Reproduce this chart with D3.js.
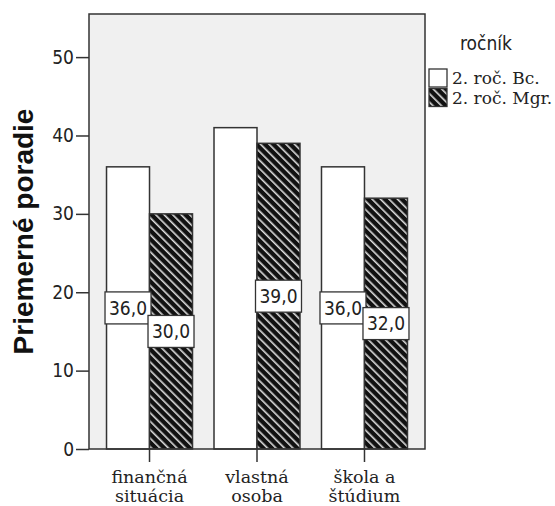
<!DOCTYPE html>
<html>
<head>
<meta charset="utf-8">
<script src="https://cdn.jsdelivr.net/npm/d3@7"></script>
<style>
  body { margin: 0; background: #fff; }
  svg { display: block; }
  .serif { font-family: "DejaVu Serif", "Liberation Serif", serif; }
</style>
</head>
<body>
<div id="chart"></div>
<script>
const width = 555;
const height = 506;

// data
const categories = [["finančná", "situácia"], ["vlastná", "osoba"], ["škola a", "štúdium"]];
const series = ["2. roč. Bc.", "2. roč. Mgr."];
const bcValues = [36, 41, 36];
const mgrValues = [30, 39, 32];
const labelValues = [[36, 30], [null, 39], [36, 32]];
const yTicks = [0, 10, 20, 30, 40, 50];

const margin = { top: 14, left: 89, right: 130, bottom: 57 };
const plotW = width - margin.left - margin.right;
const plotH = height - margin.top - margin.bottom;

const svg = d3.select("#chart").append("svg")
  .attr("width", width)
  .attr("height", height);

const defs = svg.append("defs");
const pat = defs.append("pattern")
  .attr("id", "hatch")
  .attr("patternUnits", "userSpaceOnUse")
  .attr("width", 6)
  .attr("height", 6)
  .attr("patternTransform", "rotate(-45)");
pat.append("rect").attr("width", 6).attr("height", 6).attr("fill", "#111");
pat.append("rect").attr("x", 0).attr("width", 1.6).attr("height", 6).attr("fill", "#ddd");

const x0 = d3.scaleBand()
  .domain(d3.range(categories.length))
  .range([0, plotW])
  .paddingInner(0.2)
  .paddingOuter(0.163);

const x1 = d3.scaleBand()
  .domain(d3.range(series.length))
  .range([0, x0.bandwidth()]);

const y = d3.scaleLinear().domain([0, 55.5]).range([plotH, 0]);

const g = svg.append("g").attr("transform", `translate(${margin.left},${margin.top})`);

g.append("rect")
  .attr("width", plotW)
  .attr("height", plotH)
  .attr("fill", "#f0f0f0");

const fills = ["#fff", "url(#hatch)"];
const rows = categories.map((c, i) => [bcValues[i], mgrValues[i]]);

const grp = g.selectAll(".grp")
  .data(rows)
  .enter()
  .append("g")
  .attr("transform", (d, i) => `translate(${x0(i)},0)`);

grp.selectAll("rect")
  .data(d => d)
  .enter()
  .append("rect")
  .attr("x", (d, j) => x1(j))
  .attr("y", d => y(d))
  .attr("width", x1.bandwidth())
  .attr("height", d => plotH - y(d))
  .attr("fill", (d, j) => fills[j])
  .attr("stroke", "#333")
  .attr("stroke-width", 1.5);

// frame
g.append("rect")
  .attr("width", plotW)
  .attr("height", plotH)
  .attr("fill", "none")
  .attr("stroke", "#333")
  .attr("stroke-width", 1.5);

// value labels
labelValues.forEach((vals, i) => {
  vals.forEach((v, j) => {
    if (v == null) return;
    const cx = x0(i) + x1(j) + x1.bandwidth() / 2;
    const cy = y(v / 2);
    const lg = g.append("g").attr("transform", `translate(${cx},${cy})`);
    lg.append("rect")
      .attr("x", -23).attr("y", -16)
      .attr("width", 46).attr("height", 32)
      .attr("fill", "#fff")
      .attr("stroke", "#333")
      .attr("stroke-width", 1.3);
    lg.append("text")
      .attr("text-anchor", "middle")
      .attr("dy", "0.36em")
      .attr("font-family", "DejaVu Sans Condensed, DejaVu Sans")
      .attr("font-size", 19)
      .attr("fill", "#222")
      .text(d3.format(".1f")(v).replace(".", ","));
  });
});

// y axis
const yAxis = g.append("g")
  .call(d3.axisLeft(y).tickValues(yTicks).tickSize(13).tickPadding(2));
yAxis.select(".domain").remove();
yAxis.selectAll("line").attr("stroke", "#333").attr("stroke-width", 1.5);
yAxis.selectAll("text")
  .attr("font-family", "DejaVu Sans Condensed, DejaVu Sans")
  .attr("font-size", 19)
  .attr("fill", "#222");

// x axis
const xAxis = g.append("g")
  .attr("transform", `translate(0,${plotH})`)
  .call(d3.axisBottom(x0).tickSize(13).tickFormat(""));
xAxis.select(".domain").remove();
xAxis.selectAll("line").attr("stroke", "#333").attr("stroke-width", 1.5);

categories.forEach((lines, i) => {
  const cx = x0(i) + x0.bandwidth() / 2;
  lines.forEach((l, k) => {
    g.append("text")
      .attr("class", "serif")
      .attr("x", cx)
      .attr("y", plotH + 34 + k * 19)
      .attr("text-anchor", "middle")
      .style("font-size", "17.5px")
      .attr("fill", "#222")
      .text(l);
  });
});

// y title
svg.append("text")
  .attr("transform", `translate(33,${margin.top + plotH / 2}) rotate(-90)`)
  .attr("text-anchor", "middle")
  .attr("font-family", "Liberation Sans, Arial, sans-serif")
  .attr("font-weight", "bold")
  .attr("font-size", 28)
  .attr("fill", "#111")
  .text("Priemerné poradie");

// legend
svg.append("text")
  .attr("x", 460)
  .attr("y", 50)
  .attr("font-family", "DejaVu Sans Condensed, DejaVu Sans")
  .attr("font-size", 19)
  .attr("fill", "#222")
  .text("ročník");

const leg = svg.append("g").attr("transform", "translate(429,69)");
series.forEach((s, j) => {
  leg.append("rect")
    .attr("x", 0)
    .attr("y", j * 19.5)
    .attr("width", 18)
    .attr("height", 18)
    .attr("fill", fills[j])
    .attr("stroke", "#333")
    .attr("stroke-width", 1.3);
  leg.append("text")
    .attr("class", "serif")
    .attr("x", 23)
    .attr("y", j * 19.5 + 15)
    .style("font-size", "17px")
    .attr("fill", "#222")
    .text(s);
});
</script>
</body>
</html>
